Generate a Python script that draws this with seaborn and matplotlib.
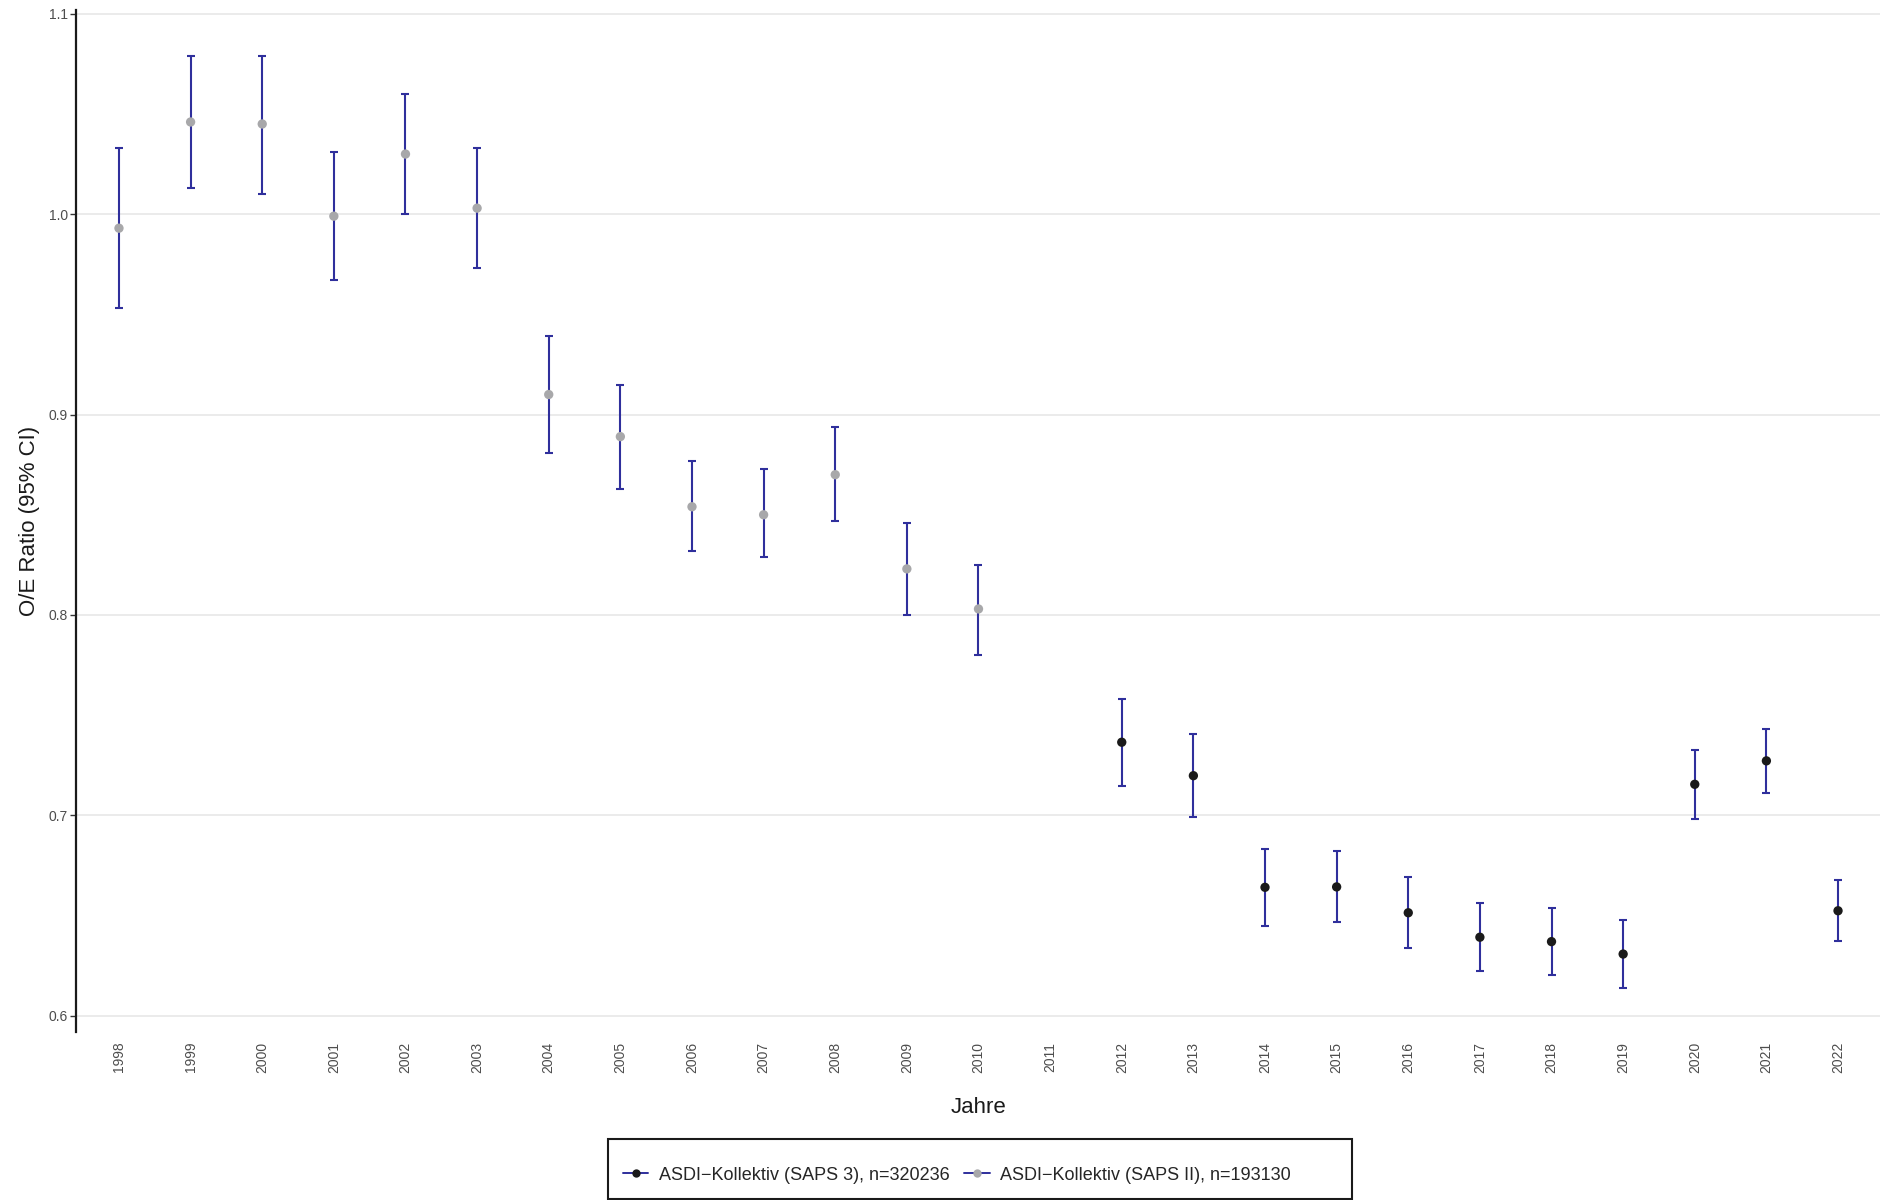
import pandas as pd
import matplotlib
matplotlib.use("Agg")
import matplotlib.pyplot as plt
from matplotlib.lines import Line2D
from matplotlib.patches import Rectangle
import seaborn as sns

# all year slots on the x axis (2011 has no value)
years = [str(y) for y in range(1998, 2023)]

saps2_years = [str(y) for y in range(1998, 2011)]
saps2_oe = [0.993, 1.046, 1.045, 0.999, 1.030, 1.003, 0.910, 0.889, 0.854, 0.850, 0.870, 0.823, 0.803]
saps2_lo = [0.953, 1.013, 1.010, 0.967, 1.000, 0.973, 0.881, 0.863, 0.832, 0.829, 0.847, 0.800, 0.780]
saps2_hi = [1.033, 1.079, 1.079, 1.031, 1.060, 1.033, 0.939, 0.915, 0.877, 0.873, 0.894, 0.846, 0.825]

saps3_years = [str(y) for y in range(2012, 2023)]
saps3_oe = [0.7365, 0.7198, 0.6641, 0.6643, 0.6514, 0.6392, 0.6370, 0.6308, 0.7155, 0.7272, 0.6524]
saps3_lo = [0.7147, 0.6993, 0.6450, 0.6466, 0.6340, 0.6222, 0.6204, 0.6140, 0.6984, 0.7112, 0.6373]
saps3_hi = [0.7581, 0.7406, 0.6832, 0.6824, 0.6691, 0.6563, 0.6536, 0.6480, 0.7328, 0.7433, 0.6676]

LABEL_S3 = "ASDI\u2212Kollektiv (SAPS 3), n=320236"
LABEL_S2 = "ASDI\u2212Kollektiv (SAPS II), n=193130"

BLUE = "#2F2F9C"
COLORS = {LABEL_S3: "#1A1A1A", LABEL_S2: "#A8A8AA"}

df = pd.concat([
    pd.DataFrame({"year": saps2_years, "oe": saps2_oe, "lo": saps2_lo, "hi": saps2_hi, "group": LABEL_S2}),
    pd.DataFrame({"year": saps3_years, "oe": saps3_oe, "lo": saps3_lo, "hi": saps3_hi, "group": LABEL_S3}),
], ignore_index=True)
df["pos"] = df["year"].map({y: i for i, y in enumerate(years)})

sns.set_theme(style="white")
plt.rcParams["font.family"] = ["Liberation Sans", "DejaVu Sans"]

fig = plt.figure(figsize=(18.81, 12), dpi=100)
ax = fig.add_axes([0.0404, 0.14, 0.9596, 0.8517])

ax.errorbar(df["pos"], df["oe"], yerr=[df["oe"] - df["lo"], df["hi"] - df["oe"]],
            fmt="none", ecolor=BLUE, elinewidth=1.5, capsize=3, capthick=1.5, zorder=2)
sns.scatterplot(data=df, x="pos", y="oe", hue="group", palette=COLORS, s=45,
                linewidth=0, legend=False, ax=ax, zorder=3)

ax.set_xlim(-0.6, 24.6)
ax.set_ylim(0.5919, 1.1019)
ax.set_xticks(range(len(years)))
ax.set_xticklabels(years, rotation=90)
ax.set_yticks([0.6, 0.7, 0.8, 0.9, 1.0, 1.1])
ax.set_yticklabels(["0.6", "0.7", "0.8", "0.9", "1.0", "1.1"])
ax.tick_params(axis="x", length=0, pad=7, labelsize=10, labelcolor="#4D4D4D")
ax.tick_params(axis="y", length=4, width=1, color="#333333", pad=2, labelsize=10, labelcolor="#4D4D4D", left=True)

ax.grid(axis="y", color="#EBEBEB", linewidth=1.4)
ax.grid(axis="x", visible=False)
ax.set_axisbelow(True)
for side in ["top", "right", "bottom"]:
    ax.spines[side].set_visible(False)
ax.spines["left"].set_color("#1A1A1A")
ax.spines["left"].set_linewidth(1.6)

ax.set_xlabel("Jahre", fontsize=16, color="#1A1A1A", labelpad=17)
ax.set_ylabel("O/E Ratio (95% CI)", fontsize=16, color="#1A1A1A", labelpad=6)

handles = [
    Line2D([0], [0], color=BLUE, lw=1.4, marker="o", markersize=6,
           markerfacecolor=COLORS[LABEL_S3], markeredgewidth=0, label=LABEL_S3),
    Line2D([0], [0], color=BLUE, lw=1.4, marker="o", markersize=6,
           markerfacecolor=COLORS[LABEL_S2], markeredgewidth=0, label=LABEL_S2),
]
leg = fig.legend(handles=handles, loc="center left", bbox_to_anchor=(623 / 1881, 1 - 1175 / 1200),
                 ncol=2, fontsize=13, frameon=False, handlelength=1.4,
                 handletextpad=0.6, columnspacing=0.8, borderpad=0, borderaxespad=0)

# ggplot-style legend box, wider on the right than the entries
fig.patches.append(Rectangle((608 / 1881, 1 - 1199 / 1200), (1352 - 608) / 1881, 60 / 1200,
                             transform=fig.transFigure, fill=False,
                             edgecolor="#1A1A1A", linewidth=1.5))

fig.savefig("out.png", dpi=100)
